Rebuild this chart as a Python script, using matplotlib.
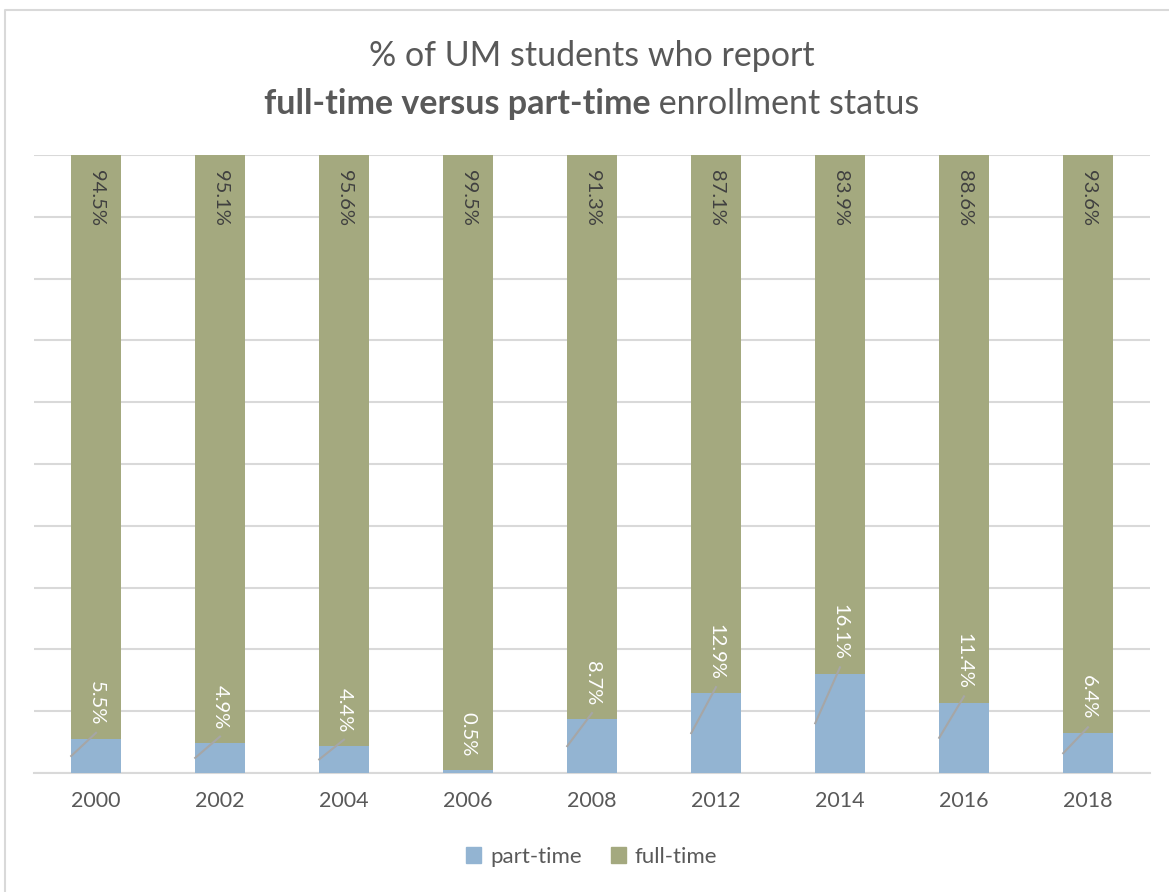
import matplotlib.pyplot as plt
from matplotlib.lines import Line2D
from matplotlib.patches import Patch

plt.rcParams['font.family'] = ['Lato', 'DejaVu Sans']

years = ["2000", "2002", "2004", "2006", "2008", "2012", "2014", "2016", "2018"]
part_time = [5.5, 4.9, 4.4, 0.5, 8.7, 12.9, 16.1, 11.4, 6.4]
full_time = [94.5, 95.1, 95.6, 99.5, 91.3, 87.1, 83.9, 88.6, 93.6]

blue = '#93B4D2'
green = '#A4A97F'
grid_col = '#D9D9D9'
text_col = '#595959'

fig = plt.figure(figsize=(11.69, 8.92), dpi=100)
ax = fig.add_axes([34 / 1169, 1 - 773 / 892, (1150 - 34) / 1169, (773 - 155) / 892])

x = list(range(len(years)))
w = 0.4
ax.bar(x, part_time, w, color=blue, zorder=3)
ax.bar(x, full_time, w, bottom=part_time, color=green, zorder=3)

ax.set_xlim(-0.5, len(years) - 0.5)
ax.set_ylim(0, 100)
ax.set_yticks(range(0, 101, 10))
ax.yaxis.grid(True, color=grid_col, linewidth=1.5, zorder=0)
ax.tick_params(axis='y', left=False, labelleft=False)
ax.tick_params(axis='x', length=0, pad=13, labelsize=15.5, colors=text_col)
ax.set_xticks(x)
ax.set_xticklabels(years)
for s in ['left', 'right', 'top']:
    ax.spines[s].set_visible(False)
ax.spines['bottom'].set_color(grid_col)
ax.spines['bottom'].set_linewidth(1.5)

# value labels
for i in x:
    ax.text(i, 97.6, f"{full_time[i]}%", rotation=270, ha='center', va='top',
            fontsize=14.5, color='#404040', zorder=5)
    p = part_time[i]
    ax.text(i, p + 2.2, f"{p}%", rotation=270, ha='center', va='bottom',
            fontsize=14.5, color='white', zorder=5)
    if p >= 1:
        ax.plot([i, i - w / 2], [p + 1.0, p / 2], color='#A6A6A6', linewidth=1.5, zorder=4)

# title, second line mixes bold and regular
fig.text(0.506, 1 - 56 / 892, "% of UM students who report", ha='center', va='center',
         fontsize=24.5, color=text_col)
tb = fig.text(0, 1 - 104 / 892, "full-time versus part-time", ha='left', va='center',
              fontsize=24.5, color=text_col, fontweight='bold')
tr = fig.text(0, 1 - 104 / 892, " enrollment status", ha='left', va='center',
              fontsize=24.5, color=text_col)
fig.canvas.draw()
r = fig.canvas.get_renderer()
wb = tb.get_window_extent(r).width / fig.bbox.width
wr = tr.get_window_extent(r).width / fig.bbox.width
x0 = 0.506 - (wb + wr) / 2
tb.set_x(x0)
tr.set_x(x0 + wb)

handles = [Patch(color=blue, label='part-time'), Patch(color=green, label='full-time')]
fig.legend(handles=handles, loc='center', bbox_to_anchor=(0.506, 1 - 857 / 892), ncol=2,
           frameon=False, fontsize=16, labelcolor=text_col, handlelength=0.7,
           handleheight=0.7, handletextpad=0.4, columnspacing=1.3)

# outer chart border (left and top visible)
fig.add_artist(Line2D([5 / 1169, 5 / 1169, 1], [0, 1 - 10 / 892, 1 - 10 / 892],
                      transform=fig.transFigure, color=grid_col, linewidth=1.5))

fig.savefig('out.png', dpi=100)
